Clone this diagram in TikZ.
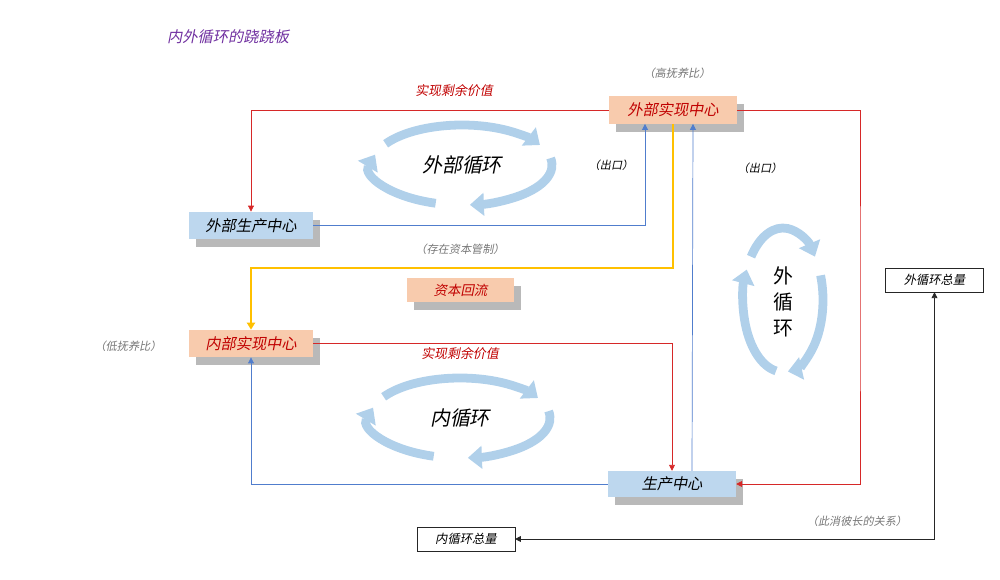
\documentclass[tikz,border=0pt]{standalone}
\usepackage{fontspec}
\setmainfont{Noto Sans CJK SC}[FakeSlant=0.2]
\newfontfamily\uprightcjk{Noto Sans CJK SC}
\usetikzlibrary{arrows.meta,shadows}

\definecolor{peach}{RGB}{248,203,173}
\definecolor{paleblue}{RGB}{189,215,238}
\definecolor{darkred}{RGB}{192,0,0}
\definecolor{linered}{RGB}{214,40,40}
\definecolor{lineblue}{RGB}{80,125,205}
\definecolor{gold}{RGB}{255,192,0}
\definecolor{cycblue}{RGB}{176,208,234}
\definecolor{titlepurple}{RGB}{112,48,160}
\definecolor{notegray}{RGB}{118,118,118}

\tikzset{
  box/.style={minimum height=0.82cm, inner sep=0pt, font=\fontsize{13}{15}\selectfont,
    drop shadow={shadow xshift=0.2cm, shadow yshift=-0.24cm, fill=black!55, opacity=0.5}},
  redbox/.style={box, fill=peach, text=darkred},
  bluebox/.style={box, fill=paleblue, text=black},
  totbox/.style={draw=black!85, fill=white, minimum width=2.93cm, minimum height=0.72cm,
    inner sep=0pt, font=\fontsize{10.5}{12}\selectfont},
  note/.style={text=notegray, font=\fontsize{9.5}{11}\selectfont},
  redline/.style={draw=linered, line width=0.6pt, -{Triangle[length=5pt,width=5pt]}},
  blueline/.style={draw=lineblue, line width=0.6pt, -{Triangle[length=5pt,width=5pt]}},
  cyc/.style={draw=cycblue, line width=7.5pt, -{Triangle[length=12pt,width=19pt]}},
  cyclabel/.style={font=\fontsize{17}{22}\selectfont}
}

\begin{document}
\begin{tikzpicture}[x=0.03cm, y=-0.03cm]
\useasboundingbox (0,0) rectangle (1000,579);

% title
\node[anchor=west, text=titlepurple, font=\fontsize{13}{15}\selectfont] (title) at (163,37) {内外循环的跷跷板};

% boxes
\node[redbox, minimum width=3.84cm] (wsx) at (673,110) {外部实现中心};
\node[bluebox, minimum width=3.72cm] (wpc) at (251,225.5) {外部生产中心};
\node[redbox, minimum width=3.72cm] (nsx) at (251,343.5) {内部实现中心};
\node[bluebox, minimum width=3.84cm, minimum height=0.78cm] (sc) at (672,484) {生产中心};
\node[redbox, minimum width=3.21cm, minimum height=0.72cm, font=\fontsize{11.5}{13}\selectfont] (zbhl) at (460.5,290) {资本回流};
\node[totbox] (wtot) at (934.5,280) {外循环总量};
\node[totbox] (ntot) at (466,539) {内循环总量};

% notes
\node[note] (gfy) at (677,73) {（高抚养比）};
\node[note] (dfy) at (128,346) {（低抚养比）};
\node[note] (zbgz) at (460,249) {（存在资本管制）};
\node[note] (cxbz) at (857,521) {（此消彼长的关系）};
\node[font=\fontsize{9.5}{11}\selectfont] (ck1) at (611,165) {（出口）};
\node[font=\fontsize{9.5}{11}\selectfont] (ck2) at (760,168) {（出口）};
\node[text=darkred, font=\fontsize{11}{13}\selectfont] (syjz1) at (454,91) {实现剩余价值};
\node[text=darkred, font=\fontsize{11}{13}\selectfont] (syjz2) at (460,354) {实现剩余价值};

% connectors
\coordinate (ybend) at (460,268);
\coordinate (redx) at (860,300);
\draw[redline] (wsx.west) -| (wpc.north);
\draw[blueline] (wpc.east) -| ([xshift=-0.84cm]wsx.south);
\draw[blueline] ([xshift=0.6cm]sc.north) -- ([xshift=0.6cm]wsx.south);
\draw[redline] (wsx.east) -| (redx) |- (sc.east);
\draw[draw=gold, line width=2.2pt, -{Triangle[length=6pt,width=7pt]}] (wsx.south) |- (ybend) -| (nsx.north);
\draw[redline] (nsx.east) -| (sc.north);
\draw[blueline] (sc.west) -| (nsx.south);
\draw[draw=black!85, line width=0.7pt, {Triangle[length=5pt,width=5pt]}-{Triangle[length=5pt,width=5pt]}] (wtot.south) |- (ntot.east);

% cycles
\node[cyclabel] (wcyc) at (462,165) {外部循环};
\draw[cyc] (462,165) ++(212:90 and 40) arc[start angle=212, end angle=330, x radius=90, y radius=40];
\draw[cyc] (462,165) ++(350:90 and 40) arc[start angle=350, end angle=445, x radius=90, y radius=40];
\draw[cyc] (462,165) ++(107:90 and 40) arc[start angle=107, end angle=195, x radius=90, y radius=40];

\node[cyclabel] (ncyc) at (460,418) {内循环};
\draw[cyc] (460,418) ++(212:90 and 40) arc[start angle=212, end angle=330, x radius=90, y radius=40];
\draw[cyc] (460,418) ++(350:90 and 40) arc[start angle=350, end angle=445, x radius=90, y radius=40];
\draw[cyc] (460,418) ++(107:90 and 40) arc[start angle=107, end angle=195, x radius=90, y radius=40];

\node[cyclabel, font=\uprightcjk\fontsize{17}{22}\selectfont, align=center] (ocyc) at (783,302) {外\\循\\环};
\draw[cyc] (783,300) ++(217:40 and 72) arc[start angle=217, end angle=323, x radius=40, y radius=72];
\draw[cyc] (783,300) ++(340:40 and 72) arc[start angle=340, end angle=443, x radius=40, y radius=72];
\draw[cyc] (783,300) ++(100:40 and 72) arc[start angle=100, end angle=205, x radius=40, y radius=72];
\end{tikzpicture}
\end{document}
